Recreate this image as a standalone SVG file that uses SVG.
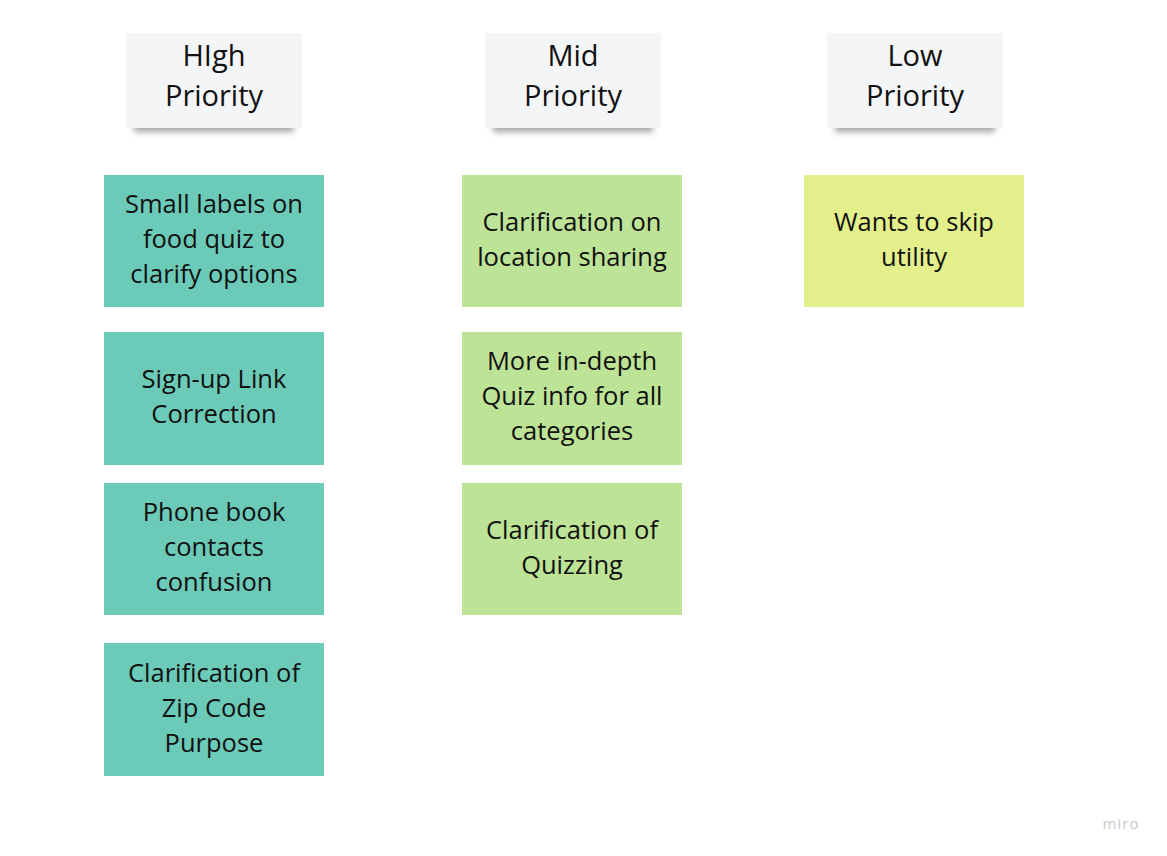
<svg xmlns="http://www.w3.org/2000/svg" width="1167" height="856" viewBox="0 0 1167 856">
<style>
.t{font-family:"Open Sans","Noto Sans",sans-serif;fill:#111111;text-anchor:middle}
.h{font-size:29px}
.s{font-size:25.5px}
.hdr{fill:#f4f5f7}
.shd{fill:#000000;opacity:0.35;filter:url(#bl)}
.hi{fill:#6ccbb8}
.mid{fill:#bde397}
.low{fill:#e2ef8b}
</style>
<defs>
<filter id="bl" x="-20%" y="-50%" width="140%" height="200%">
<feGaussianBlur stdDeviation="3"/>
</filter>
</defs>
<rect width="1167" height="856" fill="#ffffff"/>
<g id="hdr-high"><rect class="shd" x="134" y="118" width="160" height="14"/><rect class="hdr" x="126" y="33" width="176" height="95"/><text class="t h" x="214" y="66">HIgh</text><text class="t h" x="214" y="106">Priority</text></g>
<g id="hdr-mid"><rect class="shd" x="493" y="118" width="160" height="14"/><rect class="hdr" x="485" y="33" width="176" height="95"/><text class="t h" x="573" y="66">Mid</text><text class="t h" x="573" y="106">Priority</text></g>
<g id="hdr-low"><rect class="shd" x="835" y="118" width="160" height="14"/><rect class="hdr" x="827" y="33" width="176" height="95"/><text class="t h" x="915" y="66">Low</text><text class="t h" x="915" y="106">Priority</text></g>
<g id="h1"><rect class="hi" x="104" y="175" width="220" height="132"/><text class="t s" x="214" y="213">Small labels on</text><text class="t s" x="214" y="248">food quiz to</text><text class="t s" x="214" y="283">clarify options</text></g>
<g id="h2"><rect class="hi" x="104" y="332" width="220" height="133"/><text class="t s" x="214" y="388">Sign-up Link</text><text class="t s" x="214" y="423">Correction</text></g>
<g id="h3"><rect class="hi" x="104" y="483" width="220" height="132"/><text class="t s" x="214" y="521">Phone book</text><text class="t s" x="214" y="556">contacts</text><text class="t s" x="214" y="591">confusion</text></g>
<g id="h4"><rect class="hi" x="104" y="643" width="220" height="133"/><text class="t s" x="214" y="682">Clarification of</text><text class="t s" x="214" y="717">Zip Code</text><text class="t s" x="214" y="752">Purpose</text></g>
<g id="m1"><rect class="mid" x="462" y="175" width="220" height="132"/><text class="t s" x="572" y="231">Clarification on</text><text class="t s" x="572" y="266">location sharing</text></g>
<g id="m2"><rect class="mid" x="462" y="332" width="220" height="133"/><text class="t s" x="572" y="370">More in-depth</text><text class="t s" x="572" y="405">Quiz info for all</text><text class="t s" x="572" y="440">categories</text></g>
<g id="m3"><rect class="mid" x="462" y="483" width="220" height="132"/><text class="t s" x="572" y="539">Clarification of</text><text class="t s" x="572" y="574">Quizzing</text></g>
<g id="l1"><rect class="low" x="804" y="175" width="220" height="132"/><text class="t s" x="914" y="231">Wants to skip</text><text class="t s" x="914" y="266">utility</text></g>
<g id="connectors"></g>
<text x="1121" y="829" font-family="'Open Sans',sans-serif" font-size="15" fill="#c8c8cc" text-anchor="middle" letter-spacing="1">miro</text>
</svg>
